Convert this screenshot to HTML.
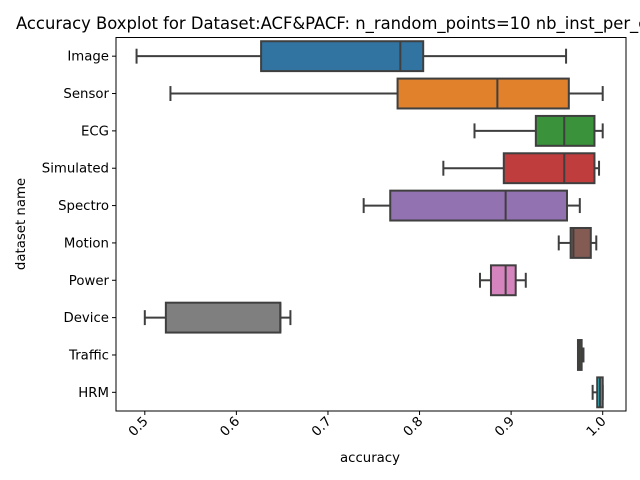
<!DOCTYPE html>
<html><head><meta charset="utf-8"><style>
html,body{margin:0;padding:0;background:#fff;width:640px;height:480px;overflow:hidden}
svg{display:block;font-family:"DejaVu Sans","Liberation Sans",sans-serif}
</style></head><body>
<svg id="chart" width="640" height="480" viewBox="0 0 640 480">
<text x="16" y="29" font-size="16.4" fill="#000">Accuracy Boxplot for Dataset:ACF&amp;PACF: n_random_points=10 nb_inst_per_class=10</text>
<g id="marks"></g>
<rect x="116" y="37.5" width="510" height="373.5" fill="none" stroke="#000" stroke-width="1"/>
<g id="axes"></g>
<text x="370" y="462" font-size="13.3" text-anchor="middle">accuracy</text>
<text transform="translate(25,224) rotate(-90)" font-size="13.3" text-anchor="middle">dataset name</text>
</svg>
<script>
const categories=["Image","Sensor","ECG","Simulated","Spectro","Motion","Power","Device","Traffic","HRM"];
const whiskerLo=[0.491,0.528,0.860,0.826,0.739,0.952,0.866,0.500,0.975,0.989];
const q1=[0.627,0.776,0.927,0.892,0.768,0.965,0.878,0.523,0.973,0.994];
const median=[0.779,0.885,0.958,0.958,0.894,0.968,0.894,0.648,0.975,0.997];
const q3=[0.804,0.963,0.991,0.991,0.961,0.987,0.905,0.648,0.977,1.000];
const whiskerHi=[0.960,1.000,1.000,0.996,0.975,0.993,0.916,0.659,0.979,1.000];
const xTicks=[0.5,0.6,0.7,0.8,0.9,1.0];
const xTickLabels=["0.5","0.6","0.7","0.8","0.9","1.0"];
const colors=["#3274a1","#e1812c","#3a923a","#c03d3e","#9372b2","#845b53","#d684bd","#7f7f7f","#a9aa35","#2eb4c4"];
const NS="http://www.w3.org/2000/svg";
const X0=116,X1=626,Y0=37.5,Y1=411;
function x(v){return 144.8+(v-0.5)*915.8;}
const band=(Y1-Y0)/categories.length;
function yc(i){return Y0+band*(i+0.5);}
function mk(tag,attrs,parent){const e=document.createElementNS(NS,tag);for(const k in attrs)e.setAttribute(k,attrs[k]);parent.appendChild(e);return e;}
const marks=document.getElementById('marks'),axes=document.getElementById('axes');
const ST="#3f3f3f",SW=2;
categories.forEach((c,i)=>{
  const g=mk('g',{},marks);
  
  
  const y=yc(i),h=band*0.8,hc=h/4;
  let l=mk('line',{x1:x(whiskerLo[i]),x2:x(q1[i]),y1:y,y2:y,stroke:ST,'stroke-width':SW},g);
  
  
  l=mk('line',{x1:x(q3[i]),x2:x(whiskerHi[i]),y1:y,y2:y,stroke:ST,'stroke-width':SW},g);
  
  
  l=mk('line',{x1:x(whiskerLo[i]),x2:x(whiskerLo[i]),y1:y-hc,y2:y+hc,stroke:ST,'stroke-width':SW},g);
  
  
  l=mk('line',{x1:x(whiskerHi[i]),x2:x(whiskerHi[i]),y1:y-hc,y2:y+hc,stroke:ST,'stroke-width':SW},g);
  
  
  const r=mk('rect',{x:x(q1[i]),y:y-h/2,width:Math.max(x(q3[i])-x(q1[i]),0.5),height:h,fill:colors[i],stroke:ST,'stroke-width':SW},g);
  
  
  l=mk('line',{x1:x(median[i]),x2:x(median[i]),y1:y-h/2,y2:y+h/2,stroke:ST,'stroke-width':SW},g);
  
  
  l=mk('line',{x1:X0-4,x2:X0,y1:y,y2:y,stroke:'#000','stroke-width':1},axes);
  
  
  const t=mk('text',{x:X0-7,y:y+4.5,'font-size':13.3,'text-anchor':'end'},axes);
  t.textContent=c;
  
  
});
xTicks.forEach((v,i)=>{
  const l=mk('line',{x1:x(v),x2:x(v),y1:Y1,y2:Y1+4,stroke:'#000','stroke-width':1},axes);
  
  
  const t=mk('text',{transform:`translate(${x(v)+4},${Y1+11}) rotate(-45)`,'font-size':13.3,'text-anchor':'end'},axes);
  t.textContent=xTickLabels[i];
  
  
});
</script>
</body></html>
